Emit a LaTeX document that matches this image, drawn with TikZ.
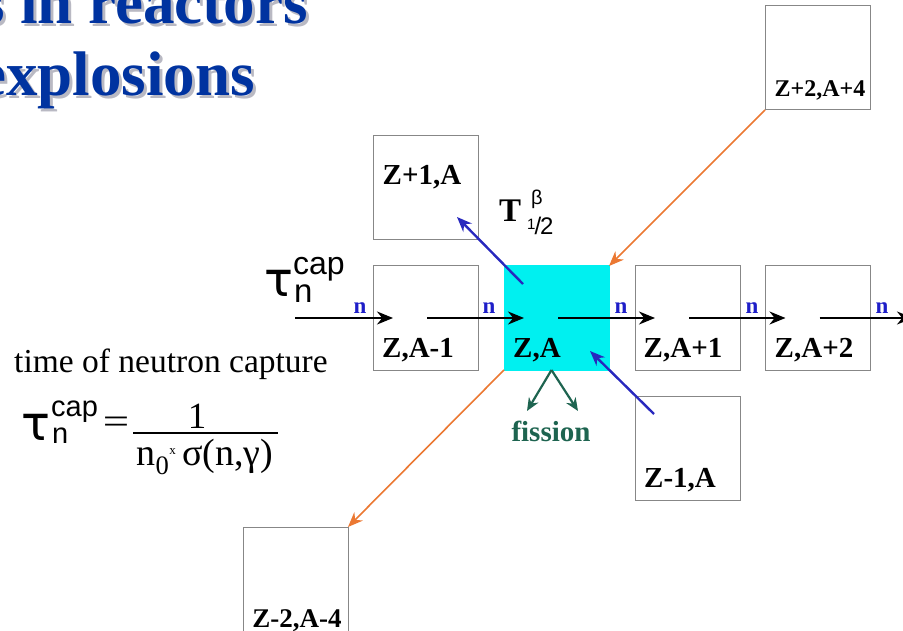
\documentclass[tikz,border=0pt]{standalone}
\usepackage{fontspec}
\setmainfont{Liberation Serif}
\newfontfamily\sansf{Liberation Sans}
\newfontfamily\taufont{DejaVu Sans}
\usetikzlibrary{arrows.meta,calc}
\definecolor{titleblue}{RGB}{0,51,160}
\definecolor{titleshadow}{RGB}{185,185,195}
\definecolor{nblue}{RGB}{30,30,200}
\definecolor{betablue}{RGB}{40,40,190}
\definecolor{orangeA}{RGB}{235,120,50}
\definecolor{fissgreen}{RGB}{30,100,80}
\definecolor{boxgray}{RGB}{135,135,135}
\definecolor{zacyan}{RGB}{0,240,240}
\begin{document}
\begin{tikzpicture}[x=1pt,y=-1pt,
  nucbox/.style={draw=boxgray,line width=1pt,minimum width=105pt,minimum height=104pt,inner sep=0pt,outer sep=0pt},
  nuclab/.style={font=\fontsize{29}{29}\selectfont\bfseries,inner sep=0pt,anchor=base},
  nlab/.style={font=\fontsize{23}{23}\selectfont\bfseries,text=nblue,inner sep=0pt,anchor=base},
  titletext/.style={font=\fontsize{63}{63}\selectfont\bfseries,inner sep=0pt,anchor=base east},
  plain/.style={inner sep=0pt,anchor=base west},
  ncaparrow/.style={line width=2.2pt,-{Stealth[length=16pt,width=13pt]}},
  betaarrow/.style={draw=betablue,line width=2.4pt,-{Stealth[length=15pt,width=12pt]}},
  alphaarrow/.style={draw=orangeA,line width=1.6pt,-{Stealth[length=15pt,width=12pt]}},
  fissarrow/.style={draw=fissgreen,line width=2.2pt,-{Stealth[length=13pt,width=11pt]}},
]
\useasboundingbox (0,0) rectangle (903,631);

% title
\node[titletext,text=titleshadow] (t1s) at (311,27) {s in reactors};
\node[titletext,text=titleblue] (t1) at (308,24) {s in reactors};
\node[titletext,text=titleshadow] (t2s) at (258,99) {explosions};
\node[titletext,text=titleblue] (t2) at (255,96) {explosions};

% boxes
\node[nucbox] (zp1) at (425.5,188) {};
\node[nucbox] (zam1) at (425.5,318) {};
\node[nucbox,fill=zacyan,draw=zacyan] (za) at (556.5,318) {};
\node[nucbox] (zap1) at (687.5,318) {};
\node[nucbox] (zap2) at (818,318) {};
\node[nucbox] (zm1) at (687.5,448) {};
\node[nucbox] (zp2) at (817.5,58) {};
\node[nucbox] (zm2) at (295.5,579) {};

% box labels
\node[nuclab] (lzp1) at (422,185) {Z+1,A};
\node[nuclab] (lzam1) at (418,357) {Z,A-1};
\node[nuclab] (lza) at (537,357) {Z,A};
\node[nuclab] (lzap1) at (683,357) {Z,A+1};
\node[nuclab] (lzap2) at (814,357) {Z,A+2};
\node[nuclab] (lzm1) at (680,487) {Z-1,A};
\node[nuclab,font=\fontsize{24}{24}\selectfont\bfseries] (lzp2) at (820,97) {Z+2,A+4};
\node[nuclab,font=\fontsize{27}{27}\selectfont\bfseries] (lzm2) at (297,627) {Z-2,A-4};

% neutron capture chain
\coordinate (in0) at (295,318);
\coordinate (out0) at (913,318);
\draw[ncaparrow] (in0) -- ([xshift=20pt]zam1.west);
\draw[ncaparrow] ([xshift=54pt]zam1.west) -- ([xshift=20pt]za.west);
\draw[ncaparrow] ([xshift=54pt]za.west) -- ([xshift=20pt]zap1.west);
\draw[ncaparrow] ([xshift=54pt]zap1.west) -- ([xshift=20pt]zap2.west);
\draw[ncaparrow] ([xshift=54pt]zap2.west) -- (out0);
\node[nlab] (n1) at (360,313) {n};
\node[nlab] (n2) at (489,313) {n};
\node[nlab] (n3) at (621,313) {n};
\node[nlab] (n4) at (752,313) {n};
\node[nlab] (n5) at (882,313) {n};

% beta decays
\draw[betaarrow] ([shift={(-33.5,-34)}]za.center) -- ([shift={(31.5,29)}]zp1.center);
\draw[betaarrow] ([shift={(-33.5,-34)}]zm1.center) -- ([shift={(33.5,33)}]za.center);
\node[plain,font=\fontsize{33}{33}\selectfont\bfseries] (tT) at (499,222) {T};
\node[plain,font=\sansf\fontsize{20}{20}\selectfont] (tbeta) at (531,205) {β};
\node[plain,font=\sansf\fontsize{24}{24}\selectfont] (thalf) at (527,235) {\raisebox{5pt}{\fontsize{15}{15}\selectfont 1}\kern-1pt/\kern-1pt2};

% alpha
\draw[alphaarrow] (zp2.south west) -- (za.north east);
\draw[alphaarrow] (za.south west) -- (zm2.north east);

% fission
\coordinate (f1) at (527,411);
\coordinate (f2) at (578,411);
\draw[fissarrow] ([xshift=-5pt]za.south) -- (f1);
\draw[fissarrow] ([xshift=-5pt]za.south) -- (f2);
\node[nuclab,text=fissgreen] (lfiss) at (551,441) {fission};

% tau label at arrow
\node[plain,font=\taufont\fontsize{48}{48}\selectfont] (tau1) at (264,297) {τ};
\node[plain,font=\sansf\fontsize{32}{32}\selectfont] (cap1) at (293,275) {cap};
\node[plain,font=\sansf\fontsize{33}{33}\selectfont] (sub1) at (294,302) {n};

% formula
\node[plain,font=\fontsize{33.5}{33.5}\selectfont] (timecap) at (14,372) {time of neutron capture};
\node[plain,font=\taufont\fontsize{48}{48}\selectfont] (tau2) at (21,440) {τ};
\node[plain,font=\sansf\fontsize{29}{29}\selectfont] (cap2) at (51,416) {cap};
\node[plain,font=\sansf\fontsize{29}{29}\selectfont] (sub2) at (52,443) {n};
\node[inner sep=0pt,font=\fontsize{36}{36}\selectfont] (eq) at (116,425) {\scalebox{1.3}[1]{=}};
\node[inner sep=0pt,anchor=base,font=\fontsize{37}{37}\selectfont] (num) at (197,428) {1};
\node[inner sep=0pt,anchor=base,font=\fontsize{38}{38}\selectfont] (den) at (205,465) {n\textsubscript{0}\raisebox{11pt}{\fontsize{13}{13}\selectfont x}\,σ(n,γ)};
\draw[line width=1.4pt] (133,433) -- (278,433);
\end{tikzpicture}
\end{document}
